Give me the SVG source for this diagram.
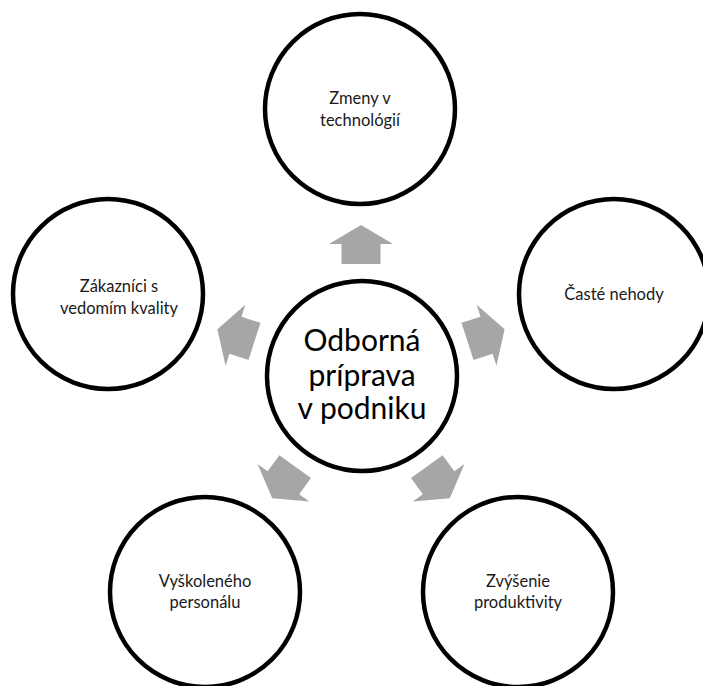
<svg xmlns="http://www.w3.org/2000/svg" width="703" height="686" viewBox="0 0 703 686">
<style>
.node{fill:#ffffff;stroke:#000000;stroke-width:4.5}
.arrow{fill:#a6a6a6;stroke:none}
.lbl{font-family:Lato,"Liberation Sans",sans-serif;font-size:16.5px;fill:#1a1a1a;text-anchor:middle}
.big{font-family:Lato,"Liberation Sans",sans-serif;font-size:30px;fill:#000000;text-anchor:middle}
</style>
<defs>
<path id="arr" d="M0,-151 L32,-132 L19.5,-132 L19.5,-112 L-19.5,-112 L-19.5,-132 L-32,-132 Z"/>
</defs>
<rect width="703" height="686" fill="#ffffff"/>
<g id="connectors">
<use href="#arr" class="arrow" transform="translate(361,376) rotate(0)"/>
<use href="#arr" class="arrow" transform="translate(361,376) rotate(72)"/>
<use href="#arr" class="arrow" transform="translate(361,376) rotate(144)"/>
<use href="#arr" class="arrow" transform="translate(361,376) rotate(216)"/>
<use href="#arr" class="arrow" transform="translate(361,376) rotate(288)"/>
</g>
<g id="center">
<circle class="node" cx="362" cy="376" r="95"/>
<text class="big" x="362" y="351">Odborná</text>
<text class="big" x="362" y="386">príprava</text>
<text class="big" x="362" y="419">v podniku</text>
</g>
<g id="top">
<circle class="node" cx="360" cy="109" r="95"/>
<text class="lbl" x="360" y="104">Zmeny v</text>
<text class="lbl" x="360" y="126">technológií</text>
</g>
<g id="right">
<circle class="node" cx="614" cy="294" r="95"/>
<text class="lbl" x="614" y="300">Časté nehody</text>
</g>
<g id="bottom-right">
<circle class="node" cx="518" cy="592" r="95"/>
<text class="lbl" x="518" y="587">Zvýšenie</text>
<text class="lbl" x="518" y="608">produktivity</text>
</g>
<g id="bottom-left">
<circle class="node" cx="205" cy="592" r="95"/>
<text class="lbl" x="205" y="587">Vyškoleného</text>
<text class="lbl" x="205" y="608">personálu</text>
</g>
<g id="left">
<circle class="node" cx="108" cy="294" r="95"/>
<text class="lbl" x="119" y="292">Zákazníci s</text>
<text class="lbl" x="119" y="314">vedomím kvality</text>
</g>
</svg>
